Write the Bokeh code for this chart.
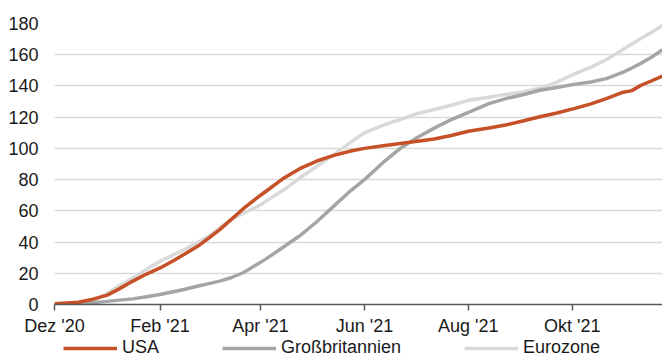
import pandas as pd
from bokeh.plotting import figure
from bokeh.layouts import column
from bokeh.models import FixedTicker, Range1d, Legend, LegendItem, ColumnDataSource
from bokeh.embed import file_html
from bokeh.resources import INLINE

dates = ["2020-12-01", "2020-12-08", "2020-12-15", "2020-12-22", "2021-01-01",
         "2021-01-08", "2021-01-16", "2021-01-24", "2021-02-01", "2021-02-08",
         "2021-02-15", "2021-02-24", "2021-03-01", "2021-03-08", "2021-03-15",
         "2021-03-22", "2021-04-01", "2021-04-06", "2021-04-14", "2021-04-24",
         "2021-05-04", "2021-05-14", "2021-05-24", "2021-06-01", "2021-06-12",
         "2021-06-22", "2021-07-02", "2021-07-12", "2021-07-22", "2021-08-01",
         "2021-08-13", "2021-08-23", "2021-09-02", "2021-09-12", "2021-09-22",
         "2021-10-02", "2021-10-12", "2021-10-21", "2021-10-31", "2021-11-05",
         "2021-11-10", "2021-11-16", "2021-11-23"]
usa = [0.5, 1.0, 1.5, 3.0, 6.0,
       10.0, 15.0, 19.5, 23.4, 27.5,
       32.0, 38.0, 42.0, 48.0, 54.7,
       61.5, 70.0, 74.0, 80.5, 87.0,
       91.9, 95.5, 98.3, 100.0, 101.7,
       103.2, 104.6, 106.0, 108.3, 111.0,
       113.0, 115.0, 117.5, 120.3, 122.7,
       125.5, 128.5, 131.9, 136.0, 137.0,
       140.2, 143.0, 146.3]
gb = [0.3, 0.4, 0.6, 1.0, 2.0,
      2.8, 3.6, 5.0, 6.4, 8.0,
      9.6, 12.0, 13.2, 15.0, 17.3,
      20.5, 27.0, 30.5, 36.5, 44.0,
      53.0, 63.0, 73.0, 80.0, 91.0,
      100.0, 107.0, 113.0, 118.5, 123.0,
      128.7, 131.9, 134.4, 137.2, 139.0,
      141.0, 142.5, 144.7, 148.9, 151.5,
      154.3, 158.0, 163.2]
ez = [0.2, 0.3, 0.4, 1.5, 7.0,
      12.0, 17.0, 22.5, 27.7, 31.5,
      35.0, 40.4, 43.5, 49.0, 54.7,
      58.5, 63.8, 67.5, 73.0, 81.0,
      88.5, 96.0, 104.0, 110.0, 114.9,
      118.5, 122.3, 124.9, 127.6, 130.8,
      132.8, 134.6, 136.2, 138.5, 142.5,
      147.5, 152.1, 156.8, 163.5, 166.8,
      170.2, 174.0, 178.7]

series_names = ["USA", "Großbritannien", "Eurozone"]
series_colors = ["#C65128", "#A5A5A5", "#D9D9D9"]

tick_dates = ["2020-12-01", "2021-02-01", "2021-04-01", "2021-06-01", "2021-08-01", "2021-10-01"]
tick_labels = ["Dez '20", "Feb '21", "Apr '21", "Jun '21", "Aug '21", "Okt '21"]
y_ticks = [0, 20, 40, 60, 80, 100, 120, 140, 160, 180]

x = pd.to_datetime(dates)
src = ColumnDataSource(dict(x=x, usa=usa, gb=gb, ez=ez))

p = figure(width=662, height=338, x_axis_type="datetime", output_backend="svg",
           toolbar_location=None,
           x_range=Range1d(pd.Timestamp("2020-12-01"), pd.Timestamp("2021-11-23")),
           y_range=Range1d(0, 180),
           min_border_left=54, min_border_right=0, min_border_top=23, min_border_bottom=33)
p.outline_line_color = None
p.background_fill_color = "white"
p.border_fill_color = "white"

font = "Liberation Sans"
tick_ms = [pd.Timestamp(d).value / 1e6 for d in tick_dates]
p.xaxis.ticker = FixedTicker(ticks=tick_ms)
p.xaxis.major_label_overrides = {t: l for t, l in zip(tick_ms, tick_labels)}
p.xaxis.axis_line_color = "#595959"
p.xaxis.axis_line_width = 1.5
p.xaxis.major_tick_line_color = "#595959"
p.xaxis.major_tick_line_width = 1.5
p.xaxis.major_tick_out = 6
p.xaxis.major_tick_in = 0
p.xaxis.minor_tick_line_color = None
p.xaxis.major_label_standoff = 5
p.xaxis.major_label_text_font = font
p.xaxis.major_label_text_font_size = "18px"
p.xaxis.major_label_text_color = "#1a1a1a"

p.yaxis.ticker = FixedTicker(ticks=y_ticks)
p.yaxis.axis_line_color = None
p.yaxis.major_tick_line_color = None
p.yaxis.minor_tick_line_color = None
p.yaxis.major_tick_out = 0
p.yaxis.major_tick_in = 0
p.yaxis.major_label_standoff = 16
p.yaxis.major_label_text_font = font
p.yaxis.major_label_text_font_size = "18px"
p.yaxis.major_label_text_color = "#1a1a1a"

p.xgrid.grid_line_color = None
p.ygrid.ticker = FixedTicker(ticks=y_ticks[1:])
p.ygrid.grid_line_color = "#D9D9D9"
p.ygrid.grid_line_width = 1.5

p.line("x", "ez", source=src, line_color=series_colors[2], line_width=3.5)
p.line("x", "gb", source=src, line_color=series_colors[1], line_width=3.5)
p.line("x", "usa", source=src, line_color=series_colors[0], line_width=3.5)

# legend strip below the chart (its frame is aligned with the chart frame by the column)
lg = figure(width=662, height=20, output_backend="svg", toolbar_location=None,
            x_range=Range1d(0, 1), y_range=Range1d(0, 1),
            min_border_left=0, min_border_right=0, min_border_top=0, min_border_bottom=0)
lg.outline_line_color = None
lg.axis.visible = False
lg.grid.visible = False
lg.border_fill_color = "white"
lg.background_fill_color = "white"
# placeholder renderers (kept outside the visible range) that only supply legend swatches
leg_renderers = [lg.line(x=[5, 6], y=[5, 5], line_color=c, line_width=3.5) for c in series_colors]

legend = Legend(items=[LegendItem(label=n, renderers=[r]) for n, r in zip(series_names, leg_renderers)],
                orientation="horizontal", location=(9, 0),
                glyph_width=54, glyph_height=14, label_height=14, label_standoff=5,
                spacing=63, padding=0, margin=0,
                label_text_font=font, label_text_font_size="18px", label_text_color="#1a1a1a",
                background_fill_alpha=0, border_line_color=None)
lg.add_layout(legend, "center")

open("out.html", "w").write(file_html(column(p, lg, spacing=0), INLINE))
